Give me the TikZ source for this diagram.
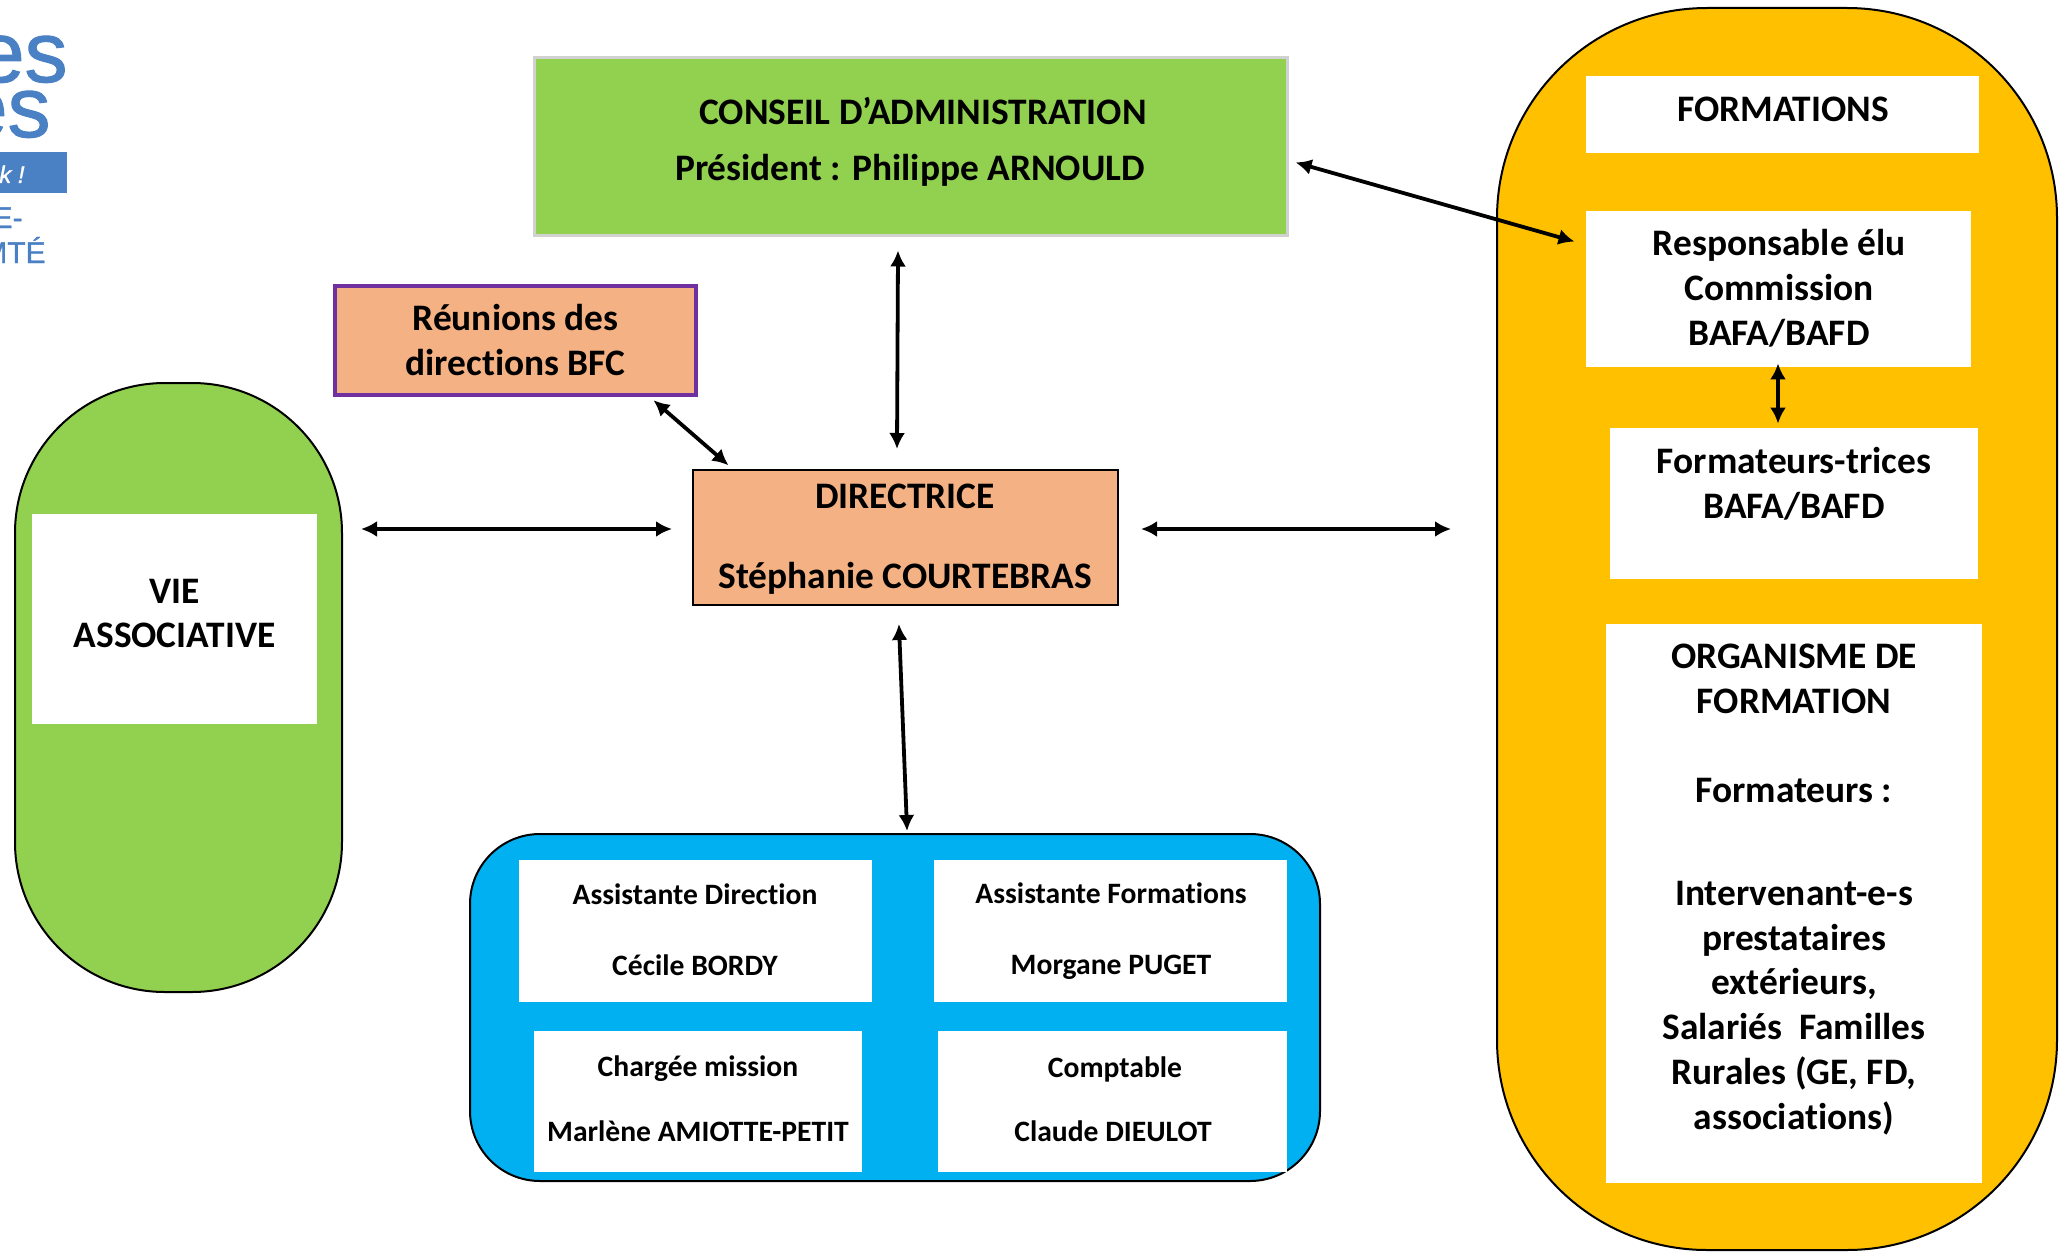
\documentclass[tikz,border=0pt]{standalone}
\usepackage{fontspec}
\setmainfont{Carlito}[Ligatures=CommonOff]
\newfontfamily\logofont{Liberation Sans}[FakeBold=1.2]
\usetikzlibrary{arrows.meta}

\begin{document}
\begin{tikzpicture}[x=0.5pt,y=-0.5pt,
   boxtext/.style={font=\fontsize{18.7}{22.4}\selectfont\bfseries,align=center,inner sep=0pt},
   smalltext/.style={font=\fontsize{14.8}{17}\selectfont\bfseries,align=center,inner sep=0pt},
   whitebox/.style={fill=white,inner sep=0pt},
   twoway/.style={{Latex[length=8pt,width=8pt]}-{Latex[length=8pt,width=8pt]},line width=1.9pt,shorten >=-1pt,shorten <=-1pt}]
   \definecolor{assogreen}{HTML}{92D050}
   \definecolor{salmon}{HTML}{F4B183}
   \definecolor{formyellow}{HTML}{FFC000}
   \definecolor{staffblue}{HTML}{00B0F0}
   \definecolor{logoblue}{HTML}{4A80C4}
   \definecolor{bfcpurple}{HTML}{7030A0}
   \useasboundingbox (0,0) rectangle (2072,1252);
   % logo, cut by the page edge
   \node[font=\logofont\fontsize{43}{43}\selectfont,text=logoblue,anchor=base east,inner sep=0pt] (logoa) at (68,82) {es};
   \node[font=\logofont\fontsize{43}{43}\selectfont,text=logoblue,anchor=base east,inner sep=0pt] (logob) at (51,137) {es};
   \node[fill=logoblue,minimum width=33.5pt,minimum height=20.5pt,inner sep=0pt] (logoband) at (33.5,172.5) {};
   \node[font=\logofont\itshape\fontsize{12}{12}\selectfont,text=white,anchor=base east,inner sep=0pt] (logoc) at (25,183) {k !};
   \node[font=\logofont\fontsize{15}{15}\selectfont,text=logoblue,anchor=base east,inner sep=0pt] (logod) at (23,228) {E-};
   \node[font=\logofont\fontsize{15}{15}\selectfont,text=logoblue,anchor=base east,inner sep=0pt] (logoe) at (46,263) {MTÉ};
   % top and left
   \node[fill=assogreen,draw=black!18,line width=1.5pt,minimum width=376.5pt,minimum height=88.5pt,inner sep=0pt] (conseil) at (910.5,146.5) {};
   \node[boxtext] (conseila) at (923,111) {CONSEIL D’ADMINISTRATION};
   \node[boxtext] (conseilb) at (910,170) {Président : Philippe ARNOULD};
   \node[fill=salmon,draw=bfcpurple,line width=2pt,minimum width=180.5pt,minimum height=54.5pt,align=center,inner sep=0pt,font=\fontsize{18.7}{22.4}\selectfont\bfseries] (reunions) at (515.5,340) {Réunions des\\directions BFC};
   \node[fill=salmon,draw=black,line width=1pt,minimum width=212.5pt,minimum height=67.5pt,inner sep=0pt] (directrice) at (905.5,537.5) {};
   \node[boxtext] (directricea) at (905,496) {DIRECTRICE};
   \node[boxtext] (directriceb) at (905,578) {Stéphanie COURTEBRAS};
   \node[fill=assogreen,draw=black,line width=1pt,rounded corners=75pt,minimum width=163.5pt,minimum height=304.5pt,inner sep=0pt] (vie) at (178.5,687.5) {};
   \node[whitebox,minimum width=142.5pt,minimum height=105pt] (viebox) at (174.5,619) {};
   \node[boxtext] (vietext) at (174.5,613.5) {VIE\\ASSOCIATIVE};
   % staff
   \node[fill=staffblue,draw=black,line width=1pt,rounded corners=35pt,minimum width=425pt,minimum height=173.5pt,inner sep=0pt] (staff) at (895,1007.5) {};
   \node[whitebox,minimum width=176.5pt,minimum height=71pt] (assistd) at (695.5,931) {};
   \node[whitebox,minimum width=176.5pt,minimum height=71pt] (assistf) at (1110.5,931) {};
   \node[whitebox,minimum width=164pt,minimum height=70.5pt] (charge) at (698,1101.5) {};
   \node[whitebox,minimum width=174.5pt,minimum height=70.5pt] (compta) at (1112.5,1101.5) {};
   \node[smalltext] (assistda) at (695,894) {Assistante Direction};
   \node[smalltext] (assistdb) at (695,965) {Cécile BORDY};
   \node[smalltext] (assistfa) at (1111,893) {Assistante Formations};
   \node[smalltext] (assistfb) at (1111,967) {Morgane PUGET};
   \node[smalltext] (chargea) at (698,1069) {Chargée mission};
   \node[smalltext] (chargeb) at (698,1131) {Marlène AMIOTTE-PETIT};
   \node[smalltext] (comptaa) at (1115,1069) {Comptable};
   \node[smalltext] (comptab) at (1113,1131) {Claude DIEULOT};
   % formations
   \node[fill=formyellow,draw=black,line width=1pt,rounded corners=105pt,minimum width=280pt,minimum height=621pt,inner sep=0pt] (formations) at (1777,629) {};
   \node[whitebox,minimum width=196.5pt,minimum height=38.5pt] (formbox) at (1782.5,114.5) {};
   \node[boxtext] (formtext) at (1783,109) {FORMATIONS};
   \node[whitebox,minimum width=192.5pt,minimum height=78pt] (respo) at (1778.5,289) {};
   \node[boxtext] (respotext) at (1779,288.5) {Responsable élu\\Commission\\BAFA/BAFD};
   \node[whitebox,minimum width=184pt,minimum height=75.5pt] (formateurs) at (1794,503.5) {};
   \node[boxtext] (formateurstext) at (1794,484) {Formateurs-trices\\BAFA/BAFD};
   \node[whitebox,minimum width=188pt,minimum height=279.5pt] (organisme) at (1794,903.5) {};
   \node[boxtext] (organismea) at (1794,679) {ORGANISME DE\\FORMATION};
   \node[boxtext] (organismeb) at (1794,791) {Formateurs :};
   \node[boxtext] (organismec) at (1794,1008) {Intervenant-e-s\\prestataires\\extérieurs,\\Salariés\ \ Familles\\Rurales (GE, FD,\\associations)};
   % arrows
   \draw[twoway] ([shift={(-12.5,16)}]conseil.south) -- ([shift={(-8.5,-22)}]directrice.north);
   \draw[twoway] ([shift={(-43,5)}]reunions.south east) -- ([shift={(35,-5)}]directrice.north west);
   \draw[twoway] ([shift={(20,-158.5)}]vie.east) -- ([shift={(-22,-8.5)}]directrice.west);
   \draw[twoway] ([shift={(24,-8.5)}]directrice.east) -- ([shift={(-47,-100)}]formations.west);
   \draw[twoway] ([shift={(9,16.5)}]conseil.east) -- ([shift={(-13,-48)}]respo.west);
   \draw[twoway,line width=2.2pt] ([shift={(-0.5,-2)}]respo.south) -- ([shift={(-16,-6)}]formateurs.north);
   \draw[twoway] ([shift={(-6.5,20)}]directrice.south) -- ([shift={(12,-4)}]staff.north);
\end{tikzpicture}
\end{document}
